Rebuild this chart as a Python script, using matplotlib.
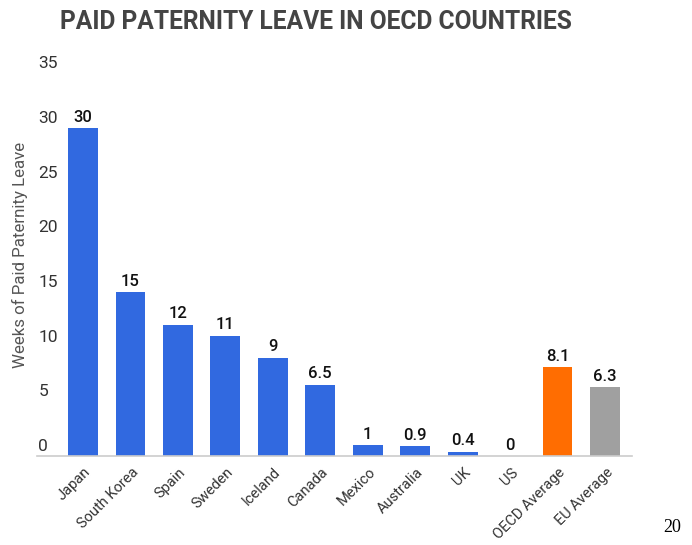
import matplotlib
matplotlib.use("Agg")
import matplotlib.pyplot as plt
import matplotlib.transforms as mtransforms

categories = ["Japan", "South Korea", "Spain", "Sweden", "Iceland", "Canada",
              "Mexico", "Australia", "UK", "US", "OECD Average", "EU Average"]
weeks = [30, 15, 12, 11, 9, 6.5, 1, 0.9, 0.4, 0, 8.1, 6.3]
value_labels = ["30", "15", "12", "11", "9", "6.5", "1", "0.9", "0.4", "0", "8.1", "6.3"]
yticks = [0, 5, 10, 15, 20, 25, 30, 35]

blue = "#3169e0"
orange = "#ff6d01"
gray = "#a0a0a0"
colors = [blue] * 10 + [orange, gray]

plt.rcParams['font.family'] = ['Roboto', 'DejaVu Sans']

fig = plt.figure(figsize=(6.92, 5.45), dpi=100)
ax = fig.add_axes([37/692, 89/545, (632-37)/692, (456-73.5)/545])

x = list(range(len(categories)))
ax.bar(x, weeks, width=0.63, color=colors, zorder=2)

for xi, v, lab in zip(x, weeks, value_labels):
    ax.annotate(lab, (xi, v), xytext=(0, 2.5), textcoords="offset points",
                ha="center", va="bottom", fontsize=12, fontweight="medium",
                color="#111111")

ax.set_xlim(-0.97, 11.57)
ax.set_ylim(0, 35)

for s in ["top", "right", "left"]:
    ax.spines[s].set_visible(False)
ax.spines["bottom"].set_color("#cccccc")
ax.spines["bottom"].set_linewidth(1.2)

ax.set_yticks(yticks)
ax.set_yticklabels([str(t) for t in yticks])
ax.tick_params(axis="y", length=0, pad=-1, labelsize=12.5, labelcolor="#333333")
for lbl in ax.get_yticklabels():
    lbl.set_ha("left")
    lbl.set_va("bottom")
    lbl.set_transform(lbl.get_transform() + mtransforms.ScaledTranslation(0, 1.5/72, fig.dpi_scale_trans))

ax.set_xticks(x)
ax.set_xticklabels(categories, rotation=45, ha="right", va="center",
                   rotation_mode="anchor", fontsize=10.5, color="#333333")
ax.tick_params(axis="x", length=0, pad=10)
offset = mtransforms.ScaledTranslation(4/72, 0, fig.dpi_scale_trans)
for lbl in ax.get_xticklabels():
    lbl.set_transform(lbl.get_transform() + offset)

fig.text(20/692, 1 - 255/545, "Weeks of Paid Paternity Leave", rotation=90,
         ha="center", va="center", fontsize=12.2, color="#555555")

fig.text(60/692, 1 - 22/545, "PAID PATERNITY LEAVE IN OECD COUNTRIES",
         ha="left", va="center", fontsize=17.7, fontweight="bold", color="#444444")

fig.text(672/692, 1 - 527/545, "20", ha="center", va="center", fontsize=13,
         family="Liberation Serif", color="#000000")

fig.savefig("out.png", dpi=100)
